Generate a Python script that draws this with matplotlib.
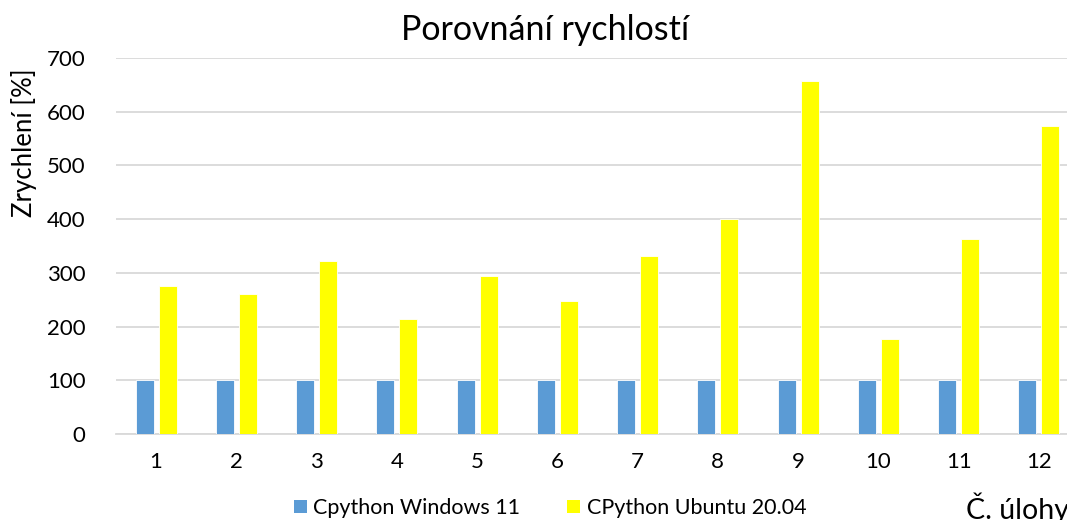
import matplotlib.pyplot as plt
import numpy as np
from matplotlib.patches import Patch

# Data
tasks = ['1', '2', '3', '4', '5', '6', '7', '8', '9', '10', '11', '12']
windows = [100, 100, 100, 100, 100, 100, 100, 100, 100, 100, 100, 100]
ubuntu = [276, 261, 322, 214, 294, 247, 332, 400, 658, 177, 363, 573]
yticks = [0, 100, 200, 300, 400, 500, 600, 700]

blue = '#5b9bd5'
yellow = '#ffff00'
grid = '#d9d9d9'

plt.rcParams['font.family'] = ['Lato', 'DejaVu Sans']

fig = plt.figure(figsize=(10.67, 5.2), dpi=100)
# plot area runs past the right edge, as in the reference crop
ax = fig.add_axes([116 / 1067, 86 / 520, 963 / 1067, 376 / 520])

x = np.arange(len(tasks))
w = 0.225
ax.bar(x - 0.143, windows, w, color=blue, edgecolor='white', linewidth=0.6, zorder=3)
ax.bar(x + 0.143, ubuntu, w, color=yellow, edgecolor='white', linewidth=0.6, zorder=3)

ax.set_xlim(-0.5, len(tasks) - 0.5)
ax.set_ylim(0, 700)
ax.set_yticks(yticks)
ax.set_xticks(x)
ax.set_xticklabels(tasks)
ax.yaxis.grid(True, color=grid, linewidth=1.3, zorder=0)
ax.set_axisbelow(True)
for s in ['top', 'right', 'left']:
    ax.spines[s].set_visible(False)
ax.spines['bottom'].set_color(grid)
ax.spines['bottom'].set_linewidth(1.3)
ax.tick_params(axis='both', length=0, labelsize=16, colors='#000000')
ax.tick_params(axis='y', pad=22)
ax.tick_params(axis='x', pad=13)

fig.text(545 / 1067, 1 - 30 / 520, 'Porovnání rychlostí', ha='center', va='center', fontsize=24.5)
fig.text(24 / 1067, 1 - 143 / 520, 'Zrychlení [%]', ha='center', va='center',
         rotation=90, fontsize=18.5)
fig.text(966 / 1067, 1 - 508 / 520, 'Č. úlohy', ha='left', va='center', fontsize=20.5)

handles = [Patch(facecolor=blue), Patch(facecolor=yellow)]
fig.legend(handles, ['Cpython Windows 11', 'CPython Ubuntu 20.04'],
           loc='center', bbox_to_anchor=(550 / 1067, 1 - 508 / 520), ncol=2,
           frameon=False, fontsize=15.5, handlelength=0.6, handleheight=0.6,
           handletextpad=0.3, columnspacing=2.2)

fig.savefig('out.png', dpi=100)
